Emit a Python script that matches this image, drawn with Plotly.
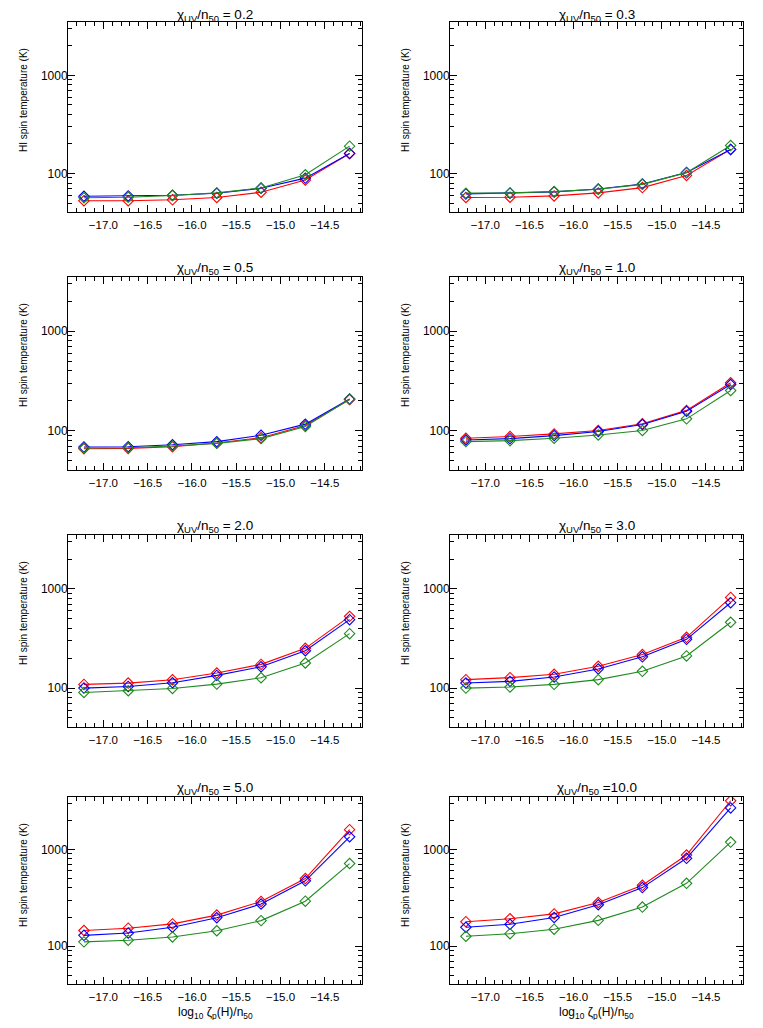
import numpy as np
import plotly.graph_objects as go

# ---------------- data ----------------
x_vals = [-17.22, -16.72, -16.22, -15.72, -15.22, -14.72, -14.22]
chi_labels = ["0.2", "0.3", "0.5", "1.0", "2.0", "3.0", "5.0", "10.0"]

red_02 = [52.7, 52.7, 53.9, 56.9, 64.4, 85.7, 160]
blue_02 = [58.6, 59.1, 60.1, 62.9, 70.6, 89.7, 160]
green_02 = [56.5, 57.3, 59.6, 63.4, 71.2, 97, 190]

red_03 = [56.9, 57.3, 59.1, 63.4, 71.8, 95.5, 176]
blue_03 = [61.9, 63.0, 64.9, 69.5, 78.1, 102.3, 176]
green_03 = [63.0, 63.4, 65.4, 69.0, 77.5, 102, 193]

red_05 = [66.2, 66.7, 69.4, 75.5, 85.5, 113, 206]
blue_05 = [68.8, 69.4, 72.6, 78.0, 90.3, 116.9, 209]
green_05 = [67.3, 67.8, 70.5, 75.0, 83.6, 110.6, 208]

red_10 = [84.3, 87.7, 93.3, 100.8, 117.7, 160.6, 304]
blue_10 = [81.1, 83.6, 89.7, 98.5, 115.9, 157, 292]
green_10 = [78.0, 79.8, 84.3, 91.0, 100.8, 132, 254]

red_20 = [108.9, 112.3, 121.4, 141.8, 173.4, 251.6, 529]
blue_20 = [100.0, 103.9, 113.2, 134.3, 164, 238, 490]
green_20 = [90.4, 94.0, 99.2, 109.7, 127, 179, 354]

red_30 = [121.6, 127.4, 137.8, 166, 218, 325, 822]
blue_30 = [112.4, 116.9, 129.4, 156, 206.6, 310, 726]
green_30 = [100.0, 102.4, 109, 121.6, 147.6, 211, 461]

red_50 = [145, 153.3, 169.8, 209.4, 290, 500, 1607]
blue_50 = [129.2, 136.5, 157, 196.8, 272.8, 474, 1355]
green_50 = [110.6, 115, 124.4, 144.2, 183.6, 292, 716]

red_100 = [179, 191.8, 215.5, 282.5, 426, 877, 3199]
blue_100 = [156.6, 168.2, 197.6, 268, 403.5, 811, 2697]
green_100 = [126.3, 134.4, 149.7, 184.6, 253.5, 446.8, 1194]

panels = [
    (red_02, blue_02, green_02),
    (red_03, blue_03, green_03),
    (red_05, blue_05, green_05),
    (red_10, blue_10, green_10),
    (red_20, blue_20, green_20),
    (red_30, blue_30, green_30),
    (red_50, blue_50, green_50),
    (red_100, blue_100, green_100),
]

y_major = [100, 1000]
y_minor = [40, 50, 60, 70, 80, 90, 200, 300, 400, 500, 600, 700, 800, 900, 2000, 3000]

# ---------------- layout geometry ----------------
OFF = 8  # page body margin in the browser
W, H = 763 - 2 * OFF, 1028 - 2 * OFF
col_px = [(68, 362), (450, 743)]
row_px = [(22, 212), (277, 470), (535, 727), (797, 984)]
ytitle_x_px = [23, 405]
title_y_px = [16, 268, 526, 788]


def px_x(p):
    return (p - OFF) / W


def px_y(p):
    return 1 - (p - OFF) / H


RED = "#ff0000"
BLUE = "#0000ff"
GREEN = "#1e8a1e"
FONT = "Liberation Sans, Arial, sans-serif"

fig = go.Figure()
layout = dict(
    width=W, height=H,
    margin=dict(l=0, r=0, t=0, b=0),
    paper_bgcolor="white", plot_bgcolor="white",
    showlegend=False,
    font=dict(family=FONT, color="black"),
)
annotations = []

for i, (r, b, g) in enumerate(panels):
    row, col = divmod(i, 2)
    k = i + 1
    xname = "x" if k == 1 else f"x{k}"
    yname = "y" if k == 1 else f"y{k}"
    xl, xr = col_px[col]
    yt, yb = row_px[row]
    xdom = [px_x(xl), px_x(xr)]
    ydom = [px_y(yb), px_y(yt)]

    for vals, colr in ((r, RED), (b, BLUE), (g, GREEN)):
        fig.add_trace(go.Scatter(
            x=x_vals, y=vals, xaxis=xname, yaxis=yname,
            mode="lines+markers",
            line=dict(color=colr, width=1.1),
            marker=dict(symbol="diamond-open", size=8, color=colr,
                        line=dict(color=colr, width=1.1)),
            hoverinfo="skip",
        ))

    layout["xaxis" if k == 1 else f"xaxis{k}"] = dict(
        domain=xdom, anchor=yname,
        range=[-17.40, -14.08],
        tickmode="linear", tick0=-17.0, dtick=0.5, tickformat=".1f",
        ticks="inside", ticklen=7, tickcolor="black", tickwidth=1,
        minor=dict(ticks="inside", dtick=0.1, tick0=-17.0, ticklen=4,
                   tickcolor="black", tickwidth=1),
        showline=True, linecolor="black", linewidth=1, mirror="allticks",
        showgrid=False, zeroline=False,
        tickfont=dict(family=FONT, size=11.5, color="black"),
        ticklabelstandoff=2,
    )
    layout["yaxis" if k == 1 else f"yaxis{k}"] = dict(
        domain=ydom, anchor=xname,
        type="log",
        range=[np.log10(40.5), np.log10(3500)],
        tickmode="array", tickvals=y_major, ticktext=[str(v) for v in y_major],
        ticks="inside", ticklen=7, tickcolor="black", tickwidth=1,
        minor=dict(ticks="inside", tickmode="array", tickvals=y_minor,
                   ticklen=4, tickcolor="black", tickwidth=1),
        showline=True, linecolor="black", linewidth=1, mirror="allticks",
        showgrid=False, zeroline=False,
        tickfont=dict(family=FONT, size=12, color="black"),
        ticklabelstandoff=-3,
    )

    # panel title
    lab = chi_labels[i]
    sep = " =" if lab == "10.0" else " = "
    annotations.append(dict(
        text=f"χ<sub>UV</sub>/n<sub>50</sub>{sep}{lab}",
        xref="paper", yref="paper",
        x=px_x((xl + xr) / 2), y=px_y(title_y_px[row]),
        xanchor="center", yanchor="middle", showarrow=False,
        borderpad=0,
        font=dict(family=FONT, size=13.5, color="black"),
    ))
    # y-axis title
    annotations.append(dict(
        text="HI spin temperature (K)",
        xref="paper", yref="paper",
        x=px_x(ytitle_x_px[col]), y=px_y(yt + 78),
        xanchor="center", yanchor="middle", textangle=-90, showarrow=False,
        font=dict(family=FONT, size=10, color="black"),
    ))
    # x-axis title (bottom row only)
    if row == 3:
        annotations.append(dict(
            text="log<sub>10</sub> ζ<sub>p</sub>(H)/n<sub>50</sub>",
            xref="paper", yref="paper",
            x=px_x((xl + xr) / 2), y=px_y(1013),
            xanchor="center", yanchor="middle", showarrow=False,
            font=dict(family=FONT, size=12, color="black"),
        ))

layout["annotations"] = annotations
fig.update_layout(**layout)
fig.write_html("out.html")
